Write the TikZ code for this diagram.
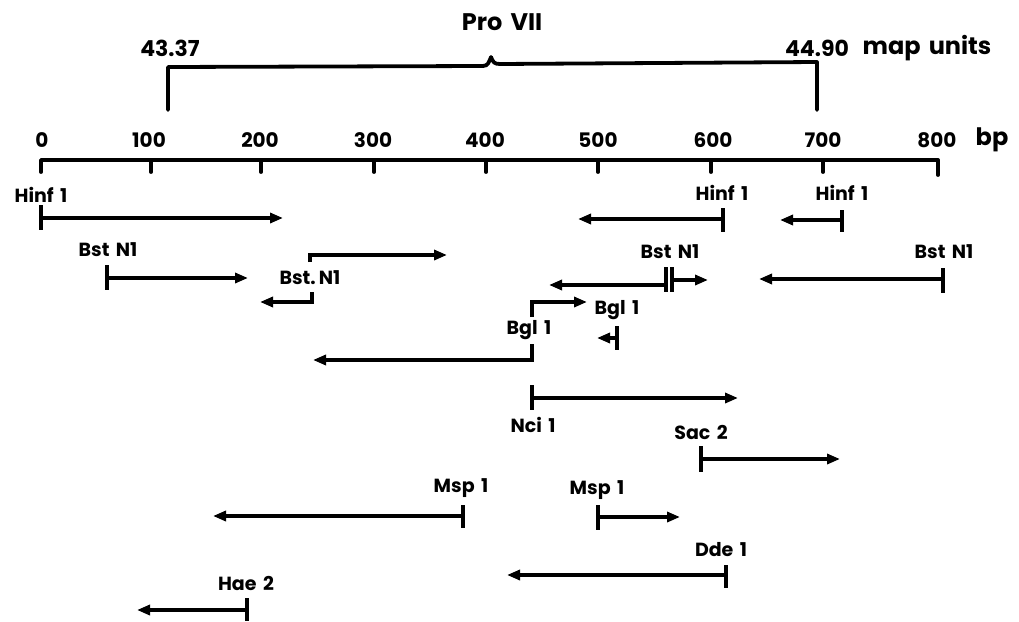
\documentclass[tikz,border=0pt]{standalone}
\usepackage{fontspec}
\setmainfont{Poppins}[WordSpace={1.6}]
\usetikzlibrary{arrows.meta}
\begin{document}
\begin{tikzpicture}[x=1pt,y=-1pt,
  frag/.style={line width=3.3pt,-{Triangle[length=13pt,width=10pt]}},
  bar/.style={line width=4pt},
  axisline/.style={line width=3.8pt,line cap=round,line join=round},
  lab/.style={font=\bfseries\fontsize{19}{19}\selectfont,inner sep=0pt},
  num/.style={font=\bfseries\fontsize{20}{20}\selectfont,inner sep=0pt},
  big/.style={font=\bfseries\fontsize{22}{22}\selectfont,inner sep=0pt},
  huge/.style={font=\bfseries\fontsize{24}{24}\selectfont,inner sep=0pt}]
\useasboundingbox (0,0) rectangle (1019,621);
% axis
\coordinate (a0) at (41,160);
\coordinate (a8) at (938,160);
\draw[axisline] (41,172) -- (a0) -- (a8) -- (938,175);
\foreach \x/\t in {151/100,261/200,374/300,486/400,598/500,711/600,823/700}{
  \draw[axisline] (\x,160) -- (\x,172);
}
\foreach \x/\t in {42/0,149/100,260/200,373/300,485/400,598/500,713/600,823/700,937/800}{
  \node[num] (t\t) at (\x,140) {\t};
}
\node[huge] (bp) at (992,140) {bp};
% Pro VII bracket
\coordinate (bl) at (168,110);
\coordinate (br) at (817,110);
\coordinate (btip) at (491,57);
\draw[axisline] (bl) -- (168,67) -- (483,66) .. controls (488,66) and (489,62) .. (btip)
  .. controls (493,62) and (494,64) .. (500,64) -- (817,62) -- (br);
\node[huge] (pro) at (502,22) {Pro VII};
\node[big] (m1) at (170,48) {43.37};
\node[big] (m2) at (817,48) {44.90};
\node[huge] (mu) at (927,48) {map units};
% Hinf 1
\node[lab] (L1) at (41,195) {Hinf 1};
\coordinate (h1a) at (41,218); \coordinate (h1b) at (283,218);
\draw[bar] (41,205) -- (41,230);
\draw[frag] (h1a) -- (h1b);
\node[lab] (L2) at (722,193) {Hinf 1};
\coordinate (h2a) at (723,219); \coordinate (h2b) at (578,219);
\draw[bar] (723,208) -- (723,232);
\draw[frag] (h2a) -- (h2b);
\node[lab] (L3) at (842,193) {Hinf 1};
\coordinate (h3a) at (842,220); \coordinate (h3b) at (780,220);
\draw[bar] (842,210) -- (842,232);
\draw[frag] (h3a) -- (h3b);
% Bst N1
\node[lab] (L4) at (108,250) {Bst N1};
\coordinate (b1a) at (107,278); \coordinate (b1b) at (248,278);
\draw[bar] (107,265) -- (107,290);
\draw[frag] (b1a) -- (b1b);
\node[lab] (L5) at (310,278) {Bst.\,N1};
\coordinate (b2t) at (310,262); \coordinate (b2c) at (310,255); \coordinate (b2e) at (447,255);
\draw[frag] (b2t) -- (b2c) -- (b2e);
\coordinate (b3t) at (312,292); \coordinate (b3c) at (312,302); \coordinate (b3e) at (260,302);
\draw[frag] (b3t) -- (b3c) -- (b3e);
\node[lab] (L6) at (670,252) {Bst N1};
\draw[bar] (666,267) -- (666,292);
\draw[bar] (672,267) -- (672,292);
\coordinate (b4a) at (666,285); \coordinate (b4b) at (549,285);
\draw[frag] (b4a) -- (b4b);
\coordinate (b5a) at (672,280); \coordinate (b5b) at (708,280);
\draw[frag] (b5a) -- (b5b);
\node[lab] (L7) at (944,252) {Bst N1};
\coordinate (b6a) at (943,279); \coordinate (b6b) at (759,279);
\draw[bar] (943,268) -- (943,293);
\draw[frag] (b6a) -- (b6b);
% Bgl 1
\node[lab] (L8) at (529,330) {Bgl 1};
\coordinate (g1t) at (532,317); \coordinate (g1c) at (532,302); \coordinate (g1e) at (587,302);
\draw[frag] (g1t) -- (g1c) -- (g1e);
\coordinate (g2t) at (532,344); \coordinate (g2c) at (532,360); \coordinate (g2e) at (313,360);
\draw[frag] (g2t) -- (g2c) -- (g2e);
\node[lab] (L9) at (617,310) {Bgl 1};
\coordinate (g3a) at (617,338); \coordinate (g3b) at (597,338);
\draw[bar] (617,326) -- (617,350);
\draw[frag] (g3a) -- (g3b);
% Nci 1
\node[lab] (L10) at (533,425) {Nci 1};
\coordinate (n1a) at (532,398); \coordinate (n1b) at (738,398);
\draw[bar] (532,385) -- (532,410);
\draw[frag] (n1a) -- (n1b);
% Sac 2
\node[lab] (L11) at (701,432) {Sac 2};
\coordinate (s1a) at (701,459); \coordinate (s1b) at (840,459);
\draw[bar] (701,446) -- (701,472);
\draw[frag] (s1a) -- (s1b);
% Msp 1
\node[lab] (L12) at (461,488) {Msp 1};
\coordinate (p1a) at (463,516); \coordinate (p1b) at (213,516);
\draw[bar] (463,505) -- (463,528);
\draw[frag] (p1a) -- (p1b);
\node[lab] (L13) at (597,490) {Msp 1};
\coordinate (p2a) at (598,517); \coordinate (p2b) at (680,517);
\draw[bar] (598,505) -- (598,530);
\draw[frag] (p2a) -- (p2b);
% Dde 1
\node[lab] (L14) at (721,550) {Dde 1};
\coordinate (d1a) at (726,575); \coordinate (d1b) at (507,575);
\draw[bar] (726,565) -- (726,588);
\draw[frag] (d1a) -- (d1b);
% Hae 2
\node[lab] (L15) at (246,583) {Hae 2};
\coordinate (e1a) at (247,610); \coordinate (e1b) at (137,610);
\draw[bar] (247,598) -- (247,621);
\draw[frag] (e1a) -- (e1b);
\end{tikzpicture}
\end{document}
